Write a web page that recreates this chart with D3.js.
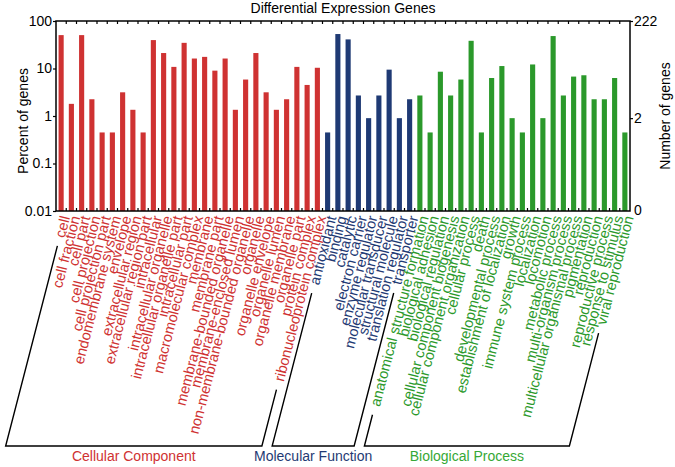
<!DOCTYPE html>
<html><head><meta charset="utf-8">
<script src="https://cdn.jsdelivr.net/npm/d3@7"></script>
<style>
body{margin:0;background:#fff;}
text{font-family:"Liberation Sans",Arial,sans-serif;}
</style></head>
<body><svg id="c" width="675" height="467"></svg>
<script>
const totalGenes = 222;
const ccCats = ["cell","cell fraction","cell part","cell projection","cell projection part","endomembrane system","envelope","extracellular region","extracellular region part","intracellular","intracellular organelle","intracellular organelle part","intracellular part","macromolecular complex","membrane","membrane part","membrane-bounded organelle","membrane-enclosed lumen","non-membrane-bounded organelle","organelle","organelle envelope","organelle lumen","organelle membrane","organelle part","protein complex","ribonucleoprotein complex"];
const ccCounts = [112,4,112,5,1,1,7,3,1,88,47,24,77,36,39,20,36,3,13,47,7,3,5,24,10,23];
const mfCats = ["antioxidant","binding","catalytic","electron carrier","enzyme regulator","molecular transducer","structural molecule","translation regulator","transporter"];
const mfCounts = [1,118,91,6,2,6,21,2,5];
const bpCats = ["anatomical structure formation","biological adhesion","biological regulation","cellular component biogenesis","cellular component organization","cellular process","death","developmental process","establishment of localization","growth","immune system process","localization","locomotion","metabolic process","multi-organism process","multicellular organismal process","pigmentation","reproduction","reproductive process","response to stimulus","viral reproduction"];
const bpCounts = [6,1,19,6,13,85,1,14,25,2,1,27,2,107,6,15,16,5,5,14,1];
const groupNames = ["Cellular Component","Molecular Function","Biological Process"];
const leftTicks = [0.01,0.1,1,10,100];
const rightTicks = [222,2,0];
const title = "Differential Expression Genes";

const colors = ["#cf3232","#1f3a74","#2b992b"];
const groupText = ["#cf3232","#1f3a74","#36a836"];

const groups = [
  {cats:ccCats, counts:ccCounts},
  {cats:mfCats, counts:mfCounts},
  {cats:bpCats, counts:bpCounts}
];
const data = [];
groups.forEach((g,gi)=>g.cats.forEach((c,i)=>data.push({cat:c, count:g.counts[i], pct:g.counts[i]/totalGenes*100, g:gi})));

const svg = d3.select("#c");
const L=56, R=630, T=21, B=211;
const x = d3.scaleBand().domain(data.map(d=>d.cat)).range([L,R]).paddingInner(0.5).paddingOuter(0.25);
const y = d3.scaleLog().domain([0.01,100]).range([B,T]);
const yR = d3.scaleLog().domain([0.01*totalGenes/100,totalGenes]).range([B,T]);

// bars
svg.append("g").selectAll("rect").data(data).join("rect")
  .attr("x",d=>x(d.cat)).attr("width",x.bandwidth())
  .attr("y",d=>y(d.pct)).attr("height",d=>B-y(d.pct))
  .attr("fill",d=>colors[d.g]);

// band-boundary ticks top & bottom
const bounds = d3.range(1,data.length).map(i=>L+i*(R-L)/data.length);
svg.append("g").selectAll("line").data(bounds).join("line")
  .attr("x1",d=>d).attr("x2",d=>d).attr("y1",T).attr("y2",T+3).attr("stroke","#000").attr("stroke-width",1.2);
svg.append("g").selectAll("line").data(bounds).join("line")
  .attr("x1",d=>d).attr("x2",d=>d).attr("y1",B).attr("y2",B-3).attr("stroke","#000").attr("stroke-width",1.2);

// frame
svg.append("rect").attr("x",L).attr("y",T).attr("width",R-L).attr("height",B-T)
  .attr("fill","none").attr("stroke","#000").attr("stroke-width",1.5);

// left axis
const la = svg.append("g").attr("transform",`translate(${L},0)`)
  .call(d3.axisLeft(y).tickValues(leftTicks).tickFormat(d=>String(d)).tickSize(3).tickPadding(1));
la.select(".domain").remove();
la.selectAll("text").style("font-size","14px").attr("fill","#000").style("font-family","Liberation Sans, Arial");
la.selectAll("line").attr("stroke-width",1.2);

// right axis
const ra = svg.append("g").attr("transform",`translate(${R},0)`)
  .call(d3.axisRight(yR).tickValues(rightTicks.filter(v=>v>0)).tickFormat(d=>String(d)).tickSize(3).tickPadding(1));
ra.select(".domain").remove();
ra.selectAll("text").style("font-size","14px").attr("fill","#000").style("font-family","Liberation Sans, Arial");
ra.selectAll("line").attr("stroke-width",1.2);
ra.append("text").attr("x",4).attr("y",B).attr("dy","0.32em").attr("fill","#000")
  .style("font-size","14px").text(String(rightTicks[2]));

// title
svg.append("text").attr("x",(L+R)/2).attr("y",13).attr("text-anchor","middle")
  .style("font-size","14px").text(title);
svg.append("text").attr("transform",`translate(28,${(T+B)/2+5}) rotate(-90)`).attr("text-anchor","middle")
  .style("font-size","14px").text("Percent of genes");
svg.append("text").attr("transform",`translate(670,${(T+B)/2}) rotate(-90)`).attr("text-anchor","middle")
  .style("font-size","14px").text("Number of genes");

// category labels
const ang = 75.5, rad = ang*Math.PI/180;
const ux = -Math.cos(rad), uy = Math.sin(rad); // direction text extends from anchor
const ay = 216;
const labels = svg.append("g").selectAll("text").data(data).join("text")
  .attr("transform",d=>`translate(${x(d.cat)+x.bandwidth()/2+4},${ay}) rotate(${-ang})`)
  .attr("text-anchor","end").attr("dy","0.35em")
  .attr("fill",d=>colors[d.g]).style("font-size","14.6px").text(d=>d.cat);
const lens = {};
labels.each(function(d){lens[d.cat]=this.getComputedTextLength();});

// brackets
const yb = 446, gap = 9;
const brk = svg.append("g");
groups.forEach((g,gi)=>{
  const first = g.cats[0], last = g.cats[g.cats.length-1];
  const line = c => {
    const ax = x(c)+x.bandwidth()/2+4;
    const s = lens[c]+gap;
    const sx = ax+ux*s, sy = ay+uy*s;
    const bx = ax+ux*(yb-ay)/uy;
    return {sx,sy,bx};
  };
  const a = line(first), b = line(last);
  brk.append("path").attr("d",`M${a.sx},${a.sy}L${a.bx},${yb}L${b.bx},${yb}L${b.sx},${b.sy}`)
    .attr("fill","none").attr("stroke","#000").attr("stroke-width",1.4);
  svg.append("text").attr("x",(a.bx+b.bx)/2).attr("y",yb+15).attr("text-anchor","middle")
    .attr("fill",groupText[gi]).style("font-size","14px").text(groupNames[gi]);
});
</script></body></html>
